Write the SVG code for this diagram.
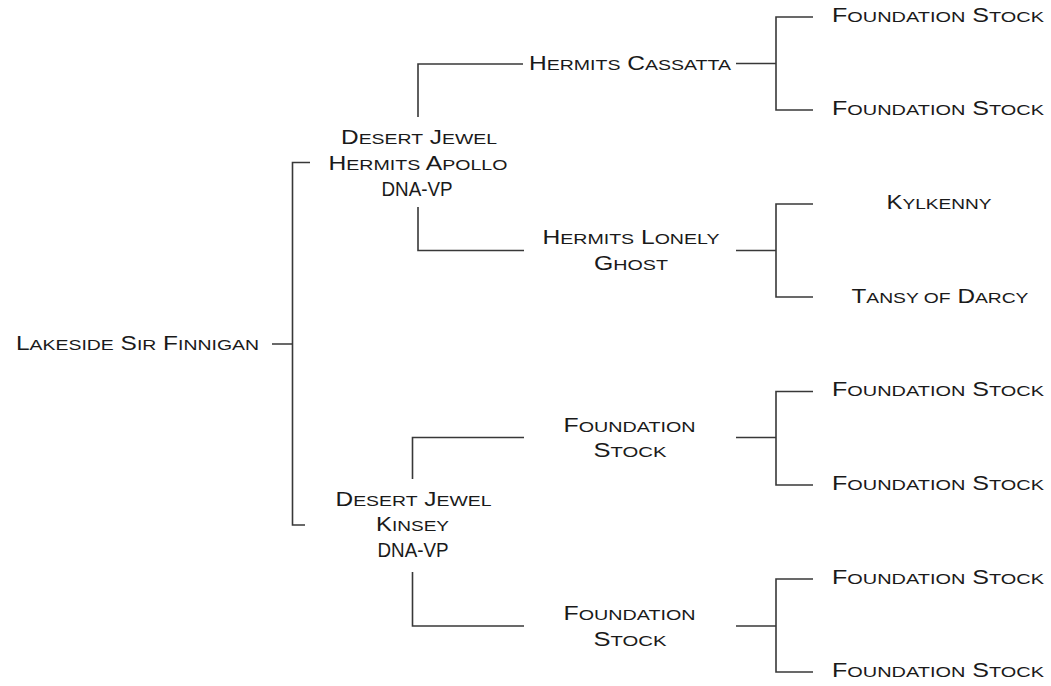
<svg xmlns="http://www.w3.org/2000/svg" width="1051" height="686" viewBox="0 0 1051 686">
<style>
  text { font-family: "Liberation Sans", Arial, sans-serif; font-size: 19.5px; fill: #1a1a1a; text-anchor: middle; }
  .s { font-size: 15.5px; text-transform: uppercase; }
  .c { fill: none; stroke: #383838; stroke-width: 1.6; }
</style>
<rect width="1051" height="686" fill="#ffffff"/>
<g id="connectors">
  <path class="c" d="M272,344 H292.5 M310,162.5 H292.5 V525 H305"/>
  <path class="c" d="M418,117 V64 H523 M418,207 V250.5 H524"/>
  <path class="c" d="M412.5,479 V437.5 H524 M412.5,572 V626 H524"/>
  <path class="c" d="M736,63.5 H776 M813,17 H776 V110 H813"/>
  <path class="c" d="M736,250.5 H776 M813,204 H776 V297 H813"/>
  <path class="c" d="M736,437.5 H776 M813,391.5 H776 V485 H813"/>
  <path class="c" d="M736,626 H776 M813,579 H776 V672 H813"/>
</g>
<g id="n-root"><text x="137.5" y="349.5" textLength="243" lengthAdjust="spacingAndGlyphs">L<tspan class="s">akeside</tspan> S<tspan class="s">ir</tspan> F<tspan class="s">innigan</tspan></text></g>
<g id="n-apollo">
  <text x="419" y="143.5" textLength="156" lengthAdjust="spacingAndGlyphs">D<tspan class="s">esert</tspan> J<tspan class="s">ewel</tspan></text>
  <text x="418" y="169.5" textLength="179" lengthAdjust="spacingAndGlyphs">H<tspan class="s">ermits</tspan> A<tspan class="s">pollo</tspan></text>
  <text x="417" y="195.5" textLength="71" lengthAdjust="spacingAndGlyphs">DNA-VP</text>
</g>
<g id="n-kinsey">
  <text x="413.5" y="505.5" textLength="156" lengthAdjust="spacingAndGlyphs">D<tspan class="s">esert</tspan> J<tspan class="s">ewel</tspan></text>
  <text x="412.5" y="531" textLength="73" lengthAdjust="spacingAndGlyphs">K<tspan class="s">insey</tspan></text>
  <text x="413" y="556.5" textLength="71" lengthAdjust="spacingAndGlyphs">DNA-VP</text>
</g>
<g id="n-cassatta"><text x="630" y="69.5" textLength="202" lengthAdjust="spacingAndGlyphs">H<tspan class="s">ermits</tspan> C<tspan class="s">assatta</tspan></text></g>
<g id="n-lonely">
  <text x="631" y="244" textLength="177" lengthAdjust="spacingAndGlyphs">H<tspan class="s">ermits</tspan> L<tspan class="s">onely</tspan></text>
  <text x="631" y="269.5" textLength="74" lengthAdjust="spacingAndGlyphs">G<tspan class="s">host</tspan></text>
</g>
<g id="n-fs-mid1">
  <text x="629.5" y="431.5" textLength="132" lengthAdjust="spacingAndGlyphs">F<tspan class="s">oundation</tspan></text>
  <text x="630" y="457" textLength="73" lengthAdjust="spacingAndGlyphs">S<tspan class="s">tock</tspan></text>
</g>
<g id="n-fs-mid2">
  <text x="629.5" y="620" textLength="132" lengthAdjust="spacingAndGlyphs">F<tspan class="s">oundation</tspan></text>
  <text x="630" y="645.5" textLength="73" lengthAdjust="spacingAndGlyphs">S<tspan class="s">tock</tspan></text>
</g>
<g id="n-fs1"><text x="938" y="22" textLength="212" lengthAdjust="spacingAndGlyphs">F<tspan class="s">oundation</tspan> S<tspan class="s">tock</tspan></text></g>
<g id="n-fs2"><text x="938" y="115" textLength="212" lengthAdjust="spacingAndGlyphs">F<tspan class="s">oundation</tspan> S<tspan class="s">tock</tspan></text></g>
<g id="n-kylkenny"><text x="939" y="209" textLength="105" lengthAdjust="spacingAndGlyphs">K<tspan class="s">ylkenny</tspan></text></g>
<g id="n-tansy"><text x="940" y="302.5" textLength="177" lengthAdjust="spacingAndGlyphs">T<tspan class="s">ansy of</tspan> D<tspan class="s">arcy</tspan></text></g>
<g id="n-fs3"><text x="938" y="396" textLength="212" lengthAdjust="spacingAndGlyphs">F<tspan class="s">oundation</tspan> S<tspan class="s">tock</tspan></text></g>
<g id="n-fs4"><text x="938" y="490" textLength="212" lengthAdjust="spacingAndGlyphs">F<tspan class="s">oundation</tspan> S<tspan class="s">tock</tspan></text></g>
<g id="n-fs5"><text x="938" y="584" textLength="212" lengthAdjust="spacingAndGlyphs">F<tspan class="s">oundation</tspan> S<tspan class="s">tock</tspan></text></g>
<g id="n-fs6"><text x="938" y="677" textLength="212" lengthAdjust="spacingAndGlyphs">F<tspan class="s">oundation</tspan> S<tspan class="s">tock</tspan></text></g>
</svg>
